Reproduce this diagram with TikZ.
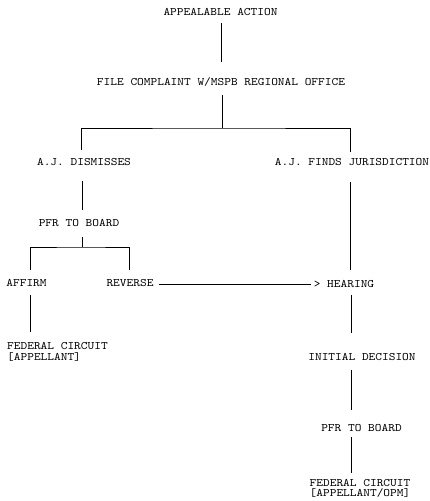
\documentclass[tikz,border=0pt]{standalone}
\usepackage{fontspec}
\setmonofont{lmmono10-regular.otf}[FakeStretch=1.12]
\usetikzlibrary{calc}
\begin{document}
\begin{tikzpicture}[x=1pt,y=-1pt,
  lbl/.style={font=\fontsize{11.4}{12}\selectfont\ttfamily, inner sep=0pt, text height=6.8pt, text depth=0pt},
  lbltwo/.style={font=\fontsize{11.4}{11.5}\selectfont\ttfamily, inner sep=0pt, align=left},
  conn/.style={draw=black, line width=0.6pt}]
\useasboundingbox[fill=white] (0,0) rectangle (429,501);
% nodes
\node[lbl] (aa) at (220.5,12) {APPEALABLE ACTION};
\node[lbl] (fc) at (221,82) {FILE COMPLAINT W/MSPB REGIONAL OFFICE};
\node[lbl] (ajd) at (84,162) {A.J. DISMISSES};
\node[lbl] (ajf) at (352,162) {A.J. FINDS JURISDICTION};
\node[lbl] (pfra) at (79,223) {PFR TO BOARD};
\node[lbl] (aff) at (26.5,283) {AFFIRM};
\node[lbl] (rev) at (130,283) {REVERSE};
\node[lbl] (hear) at (344,284) {> HEARING};
\node[lbltwo, anchor=north west] (fca) at (7,342) {FEDERAL CIRCUIT\\{}[APPELLANT]};
\node[lbl] (idec) at (362,357) {INITIAL DECISION};
\node[lbl] (pfrb) at (361.5,428) {PFR TO BOARD};
\node[lbltwo, anchor=north] (fcb) at (360,479) {FEDERAL CIRCUIT\\[-1pt]{}[APPELLANT/OPM]};
% connectors
\draw[conn] ($(aa.center)+(0.5,11)$) -- ($(fc.center)+(0,-20)$);
\draw[conn] ($(fc.center)+(1,13)$) -- ($(fc.center)+(1,46)$);
\draw[conn] ($(ajd.center)+(-3,-12)$) |- ($(fc.center)+(1,46)$) -| ($(ajf.center)+(-2,-10)$);
\draw[conn] ($(ajd.center)+(-2,19)$) -- ($(pfra.center)+(3,-13)$);
\draw[conn] ($(pfra.center)+(3,14)$) -- ($(pfra.center)+(3,24)$);
\draw[conn] ($(aff.center)+(3.5,-13)$) |- ($(pfra.center)+(3,24)$) -| ($(rev.center)+(-1,-13)$);
\draw[conn] ($(ajf.center)+(-2,20)$) -- ($(hear.center)+(6,-14)$);
\draw[conn] ($(rev.east)+(5,1)$) -- ($(hear.west)+(-3,0)$);
\draw[conn] ($(aff.center)+(3.5,12)$) -- ($(fca.north west)+(23,-10)$);
\draw[conn] ($(hear.center)+(7,11)$) -- ($(idec.center)+(-11,-24)$);
\draw[conn] ($(idec.center)+(-11,13)$) -- ($(pfrb.center)+(-10.5,-18)$);
\draw[conn] ($(pfrb.center)+(-10.5,9)$) -- ($(fcb.north)+(-9,-6)$);
\end{tikzpicture}
\end{document}
